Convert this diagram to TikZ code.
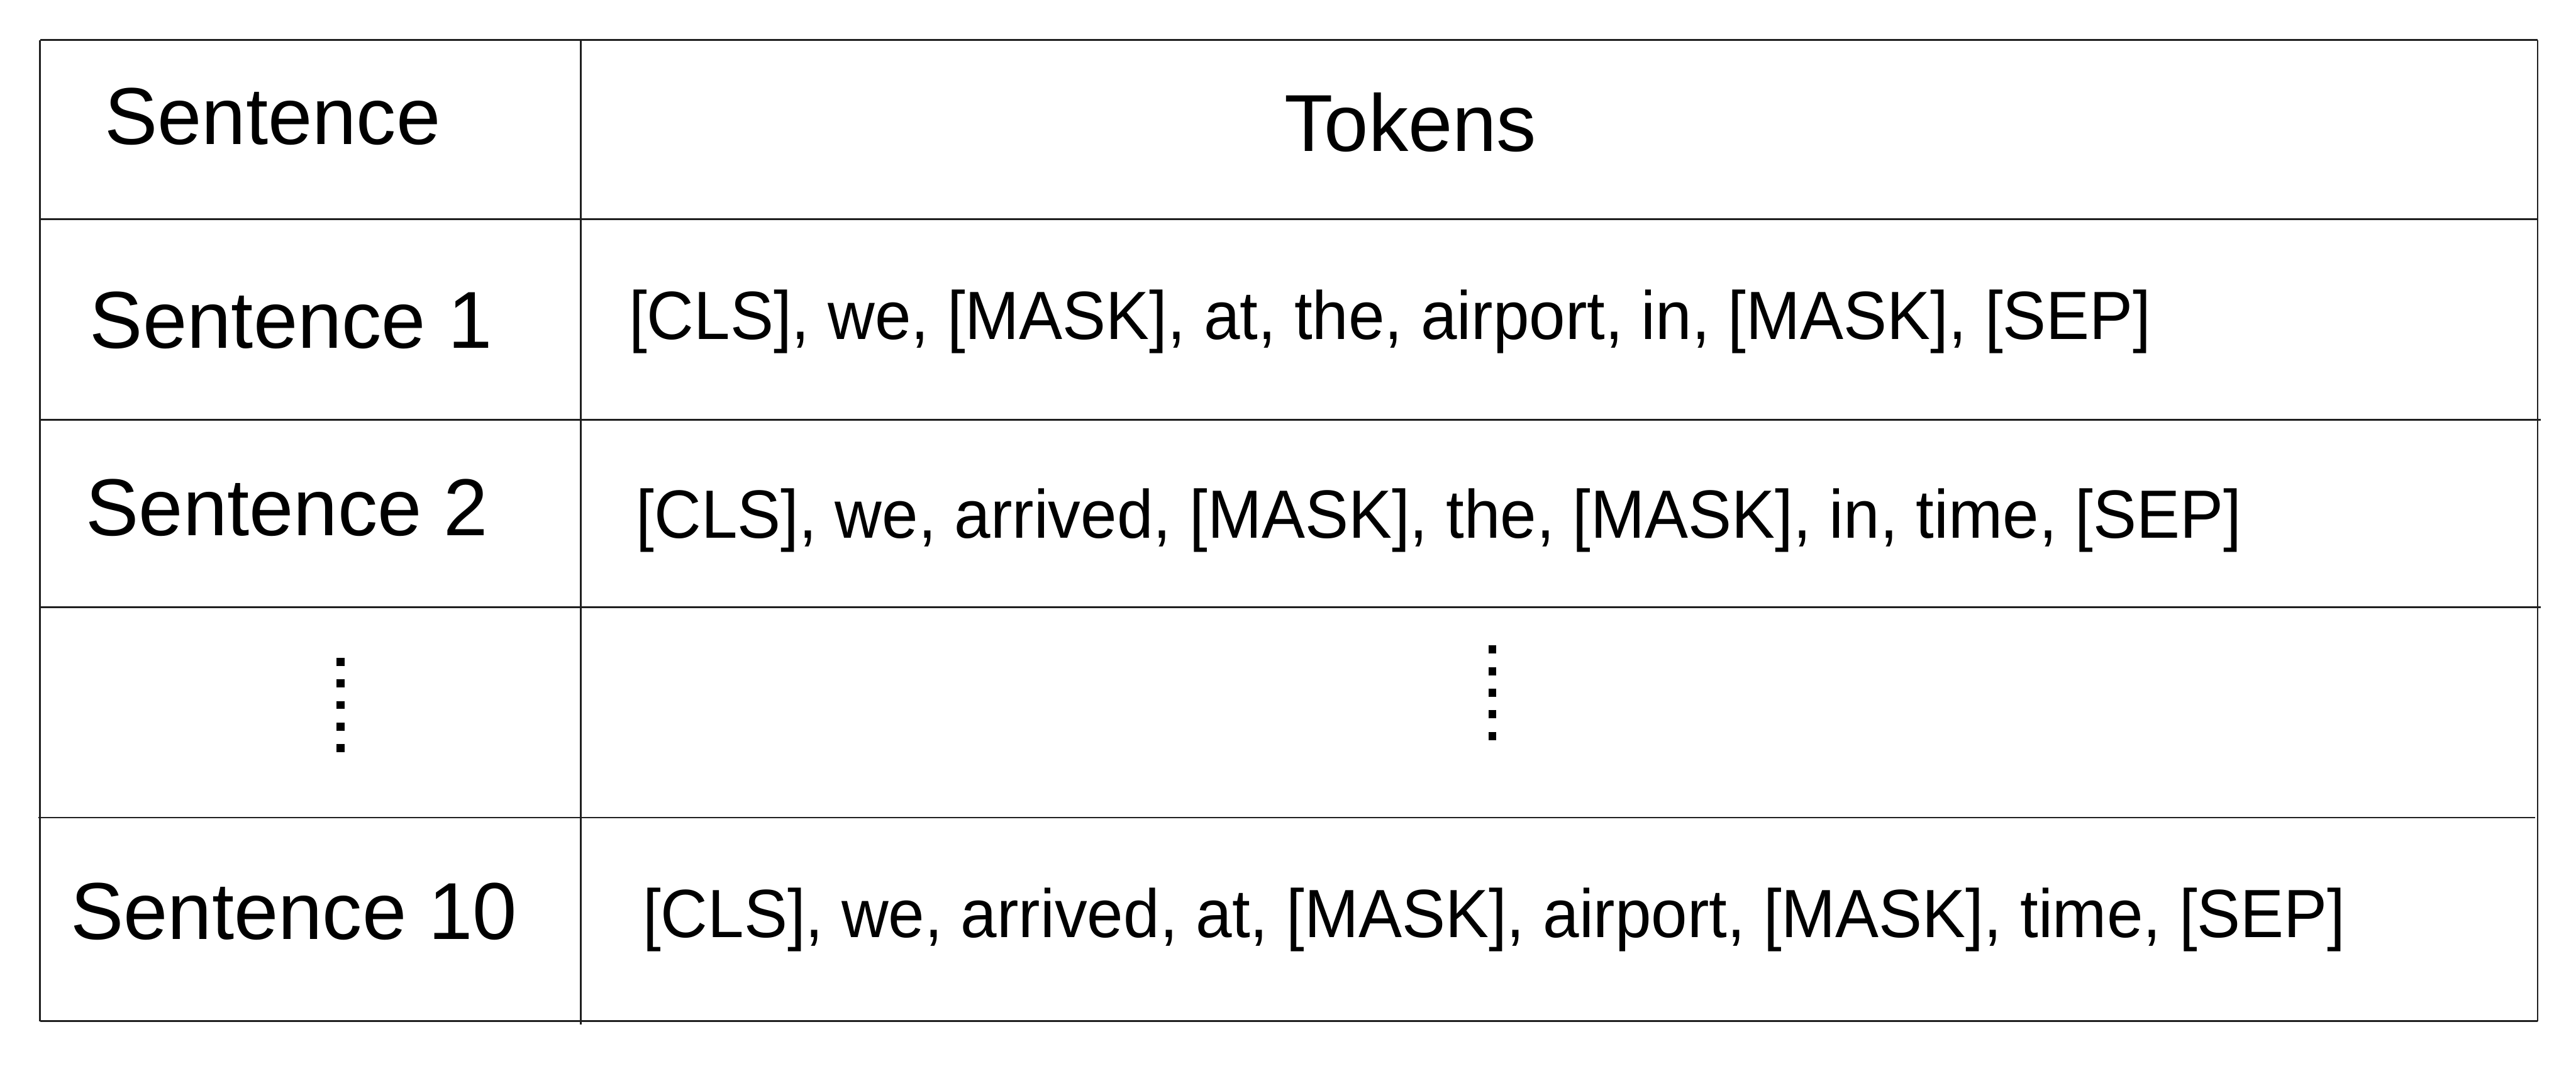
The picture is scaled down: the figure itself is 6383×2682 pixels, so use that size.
\documentclass[tikz,border=0pt]{standalone}
\usepackage{fontspec}
\setmainfont{Liberation Sans}
\newfontfamily\lblfont{Liberation Sans}[FakeStretch=0.985]
\newfontfamily\tokfont{Liberation Sans}[FakeStretch=0.953]
\begin{document}
\begin{tikzpicture}[x=0.01cm,y=-0.01cm,
  rule/.style={line width=1.22pt,draw=black!88},
  lbl/.style={inner sep=0pt,anchor=base west,font=\lblfont\fontsize{56.9}{60}\selectfont},
  tok/.style={inner sep=0pt,anchor=base west,font=\tokfont\fontsize{48.1}{52}\selectfont},
  dot/.style={fill=black,minimum size=0.2cm,inner sep=0pt,outer sep=0pt,draw=none,rectangle}]
\useasboundingbox (0,0) rectangle (6383,2682);
% table rules
\draw[rule] (99,99) -- (6288,99);
\draw[rule] (99,99) -- (99,2530);
\draw[rule] (6288,99) -- (6288,2530);
\draw[rule] (1439,99) -- (1439,2538);
\draw[rule] (99,543) -- (6288,543);
\draw[rule] (99,1040) -- (6296,1040);
\draw[rule] (99,1504) -- (6296,1504);
\draw[rule] (95,2026) -- (6282,2026);
\draw[rule] (99,2530) -- (6288,2530);
% header
\node[lbl] (hsent) at (258,357) {Sentence};
\node[lbl] (htok) at (3182,375) {Tokens};
% rows
\node[lbl] (s1) at (222,862) {Sentence 1};
\node[lbl] (s2) at (212,1327) {Sentence 2};
\node[lbl] (s10) at (174,2328) {Sentence 10};
\node[tok] (t1) at (1558,840) {[CLS], we, [MASK], at, the, airport, in, [MASK], [SEP]};
\node[tok] (t2) at (1576,1333) {[CLS], we, arrived, [MASK], the, [MASK], in, time, [SEP]};
\node[tok] (t10) at (1592,2323) {[CLS], we, arrived, at, [MASK], airport, [MASK], time, [SEP]};
% vertical dots
\foreach \i/\y in {1/1640,2/1693.5,3/1747,4/1800.5,5/1854}
  \node[dot] (ld\i) at (844,\y) {};
\foreach \i/\y in {1/1609,2/1663,3/1716,4/1770,5/1824}
  \node[dot] (rd\i) at (3698,\y) {};
\end{tikzpicture}
\end{document}
